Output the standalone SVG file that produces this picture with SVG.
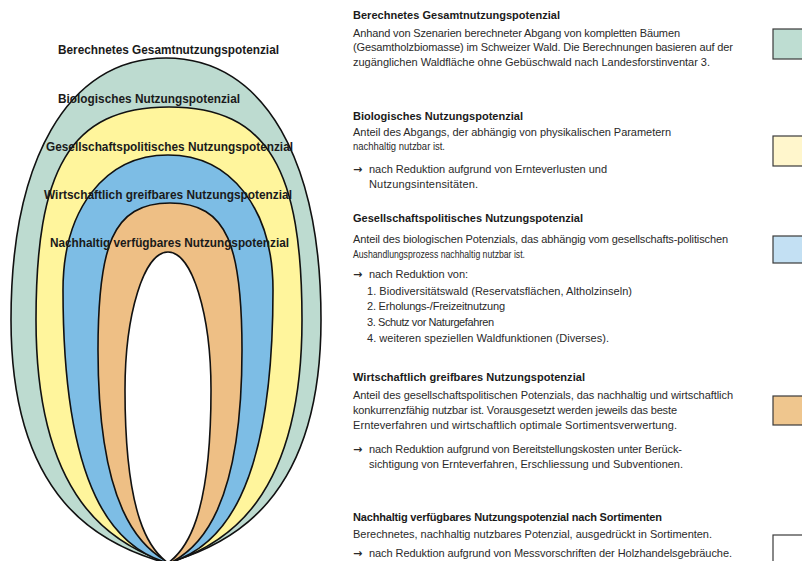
<svg xmlns="http://www.w3.org/2000/svg" width="802" height="561" viewBox="0 0 802 561">
<style>
.ell{stroke:#111;stroke-width:1.6;stroke-linejoin:round}
.lbl{font-family:"Liberation Sans",Arial,sans-serif;font-weight:bold;font-size:13px;fill:#1a1a1a}
.h{font-family:"Liberation Sans",Arial,sans-serif;font-weight:bold;font-size:11px;fill:#1a1a1a}
.b{font-family:"Liberation Sans",Arial,sans-serif;font-size:11px;fill:#2a2a2a}
.ar{font-family:"DejaVu Sans",sans-serif;font-size:11px;font-weight:bold;fill:#2a2a2a}
.sq{stroke:#3a3a3a;stroke-width:1.2}
</style>
<rect width="802" height="561" fill="#ffffff"/>
<g id="layer-gesamt"><path class="ell" fill="#BDDBD0" d="M166,58 C66,58 11,163 11,320 C11,500 101,545 166,563 C231,545 321,500 321,320 C321,163 266,58 166,58 Z"/></g>
<g id="layer-biologisch"><path class="ell" fill="#FFF59C" d="M169,107 C69,107 36,171 36,320 C36,500 113,545 169,563 C225,545 302,500 302,320 C302,171 269,107 169,107 Z"/></g>
<g id="layer-gesellschaft"><path class="ell" fill="#7DBDE5" d="M168,155 C105,155 63,209 63,290 C63,492 115,548 168,563 C221,548 273,492 273,290 C273,209 231,155 168,155 Z"/></g>
<g id="layer-wirtschaft"><path class="ell" fill="#EEBF85" d="M170,203 C112,203 98,247 98,350 C98,508 140,548 170,563 C200,548 242,508 242,350 C242,247 228,203 170,203 Z"/></g>
<g id="layer-nachhaltig"><path class="ell" fill="#ffffff" d="M168,252 C144,252 125,314 125,390 C125,518 150,550 168,563 C186,550 211,518 211,390 C211,314 192,252 168,252 Z"/></g>
<g id="labels">
<text class="lbl" x="58" y="54" textLength="221" lengthAdjust="spacingAndGlyphs">Berechnetes Gesamtnutzungspotenzial</text>
<text class="lbl" x="58" y="103" textLength="182" lengthAdjust="spacingAndGlyphs">Biologisches Nutzungspotenzial</text>
<text class="lbl" x="46" y="151" textLength="247" lengthAdjust="spacingAndGlyphs">Gesellschaftspolitisches Nutzungspotenzial</text>
<text class="lbl" x="44" y="199" textLength="248" lengthAdjust="spacingAndGlyphs">Wirtschaftlich greifbares Nutzungspotenzial</text>
<text class="lbl" x="50" y="247" textLength="239" lengthAdjust="spacingAndGlyphs">Nachhaltig verfügbares Nutzungspotenzial</text>
</g>
<g id="legend-gesamt">
<text class="h" x="353" y="19" textLength="207" lengthAdjust="spacing">Berechnetes Gesamtnutzungspotenzial</text>
<text class="b" x="353" y="37" textLength="327" lengthAdjust="spacing">Anhand von Szenarien berechneter Abgang von kompletten Bäumen</text>
<text class="b" x="353" y="51" textLength="380" lengthAdjust="spacing">(Gesamtholzbiomasse) im Schweizer Wald. Die Berechnungen basieren auf der</text>
<text class="b" x="353" y="66" textLength="357" lengthAdjust="spacing">zugänglichen Waldfläche ohne Gebüschwald nach Landesforstinventar 3.</text>
<rect class="sq" x="773" y="29" width="40" height="30" fill="#BEDDD2"/>
</g>
<g id="legend-biologisch">
<text class="h" x="353" y="120" textLength="170" lengthAdjust="spacing">Biologisches Nutzungspotenzial</text>
<text class="b" x="353" y="136" textLength="318" lengthAdjust="spacing">Anteil des Abgangs, der abhängig von physikalischen Parametern</text>
<text class="b" x="353" y="150" textLength="92" lengthAdjust="spacingAndGlyphs">nachhaltig nutzbar ist.</text>
<text class="ar" x="353" y="173">→</text>
<text class="b" x="369" y="173" textLength="238" lengthAdjust="spacing">nach Reduktion aufgrund von Ernteverlusten und</text>
<text class="b" x="369" y="188" textLength="109" lengthAdjust="spacing">Nutzungsintensitäten.</text>
<rect class="sq" x="773" y="136" width="40" height="30" fill="#FFF6CC"/>
</g>
<g id="legend-gesellschaft">
<text class="h" x="353" y="222" textLength="230" lengthAdjust="spacing">Gesellschaftspolitisches Nutzungspotenzial</text>
<text class="b" x="353" y="243" textLength="375" lengthAdjust="spacing">Anteil des biologischen Potenzials, das abhängig vom gesellschafts-politischen</text>
<text class="b" x="353" y="258" textLength="172" lengthAdjust="spacingAndGlyphs">Aushandlungsprozess nachhaltig nutzbar ist.</text>
<text class="ar" x="353" y="278">→</text>
<text class="b" x="369" y="278" textLength="99" lengthAdjust="spacing">nach Reduktion von:</text>
<text class="b" x="367" y="295" textLength="265" lengthAdjust="spacing">1. Biodiversitätswald (Reservatsflächen, Altholzinseln)</text>
<text class="b" x="367" y="310" textLength="138" lengthAdjust="spacing">2. Erholungs-/Freizeitnutzung</text>
<text class="b" x="367" y="326" textLength="127" lengthAdjust="spacing">3. Schutz vor Naturgefahren</text>
<text class="b" x="367" y="342" textLength="242" lengthAdjust="spacing">4. weiteren speziellen Waldfunktionen (Diverses).</text>
<rect class="sq" x="773" y="236" width="40" height="27" fill="#C3E0F3"/>
</g>
<g id="legend-wirtschaft">
<text class="h" x="353" y="381" textLength="232" lengthAdjust="spacing">Wirtschaftlich greifbares Nutzungspotenzial</text>
<text class="b" x="353" y="399" textLength="380" lengthAdjust="spacing">Anteil des gesellschaftspolitischen Potenzials, das nachhaltig und wirtschaftlich</text>
<text class="b" x="353" y="414" textLength="324" lengthAdjust="spacing">konkurrenzfähig nutzbar ist. Vorausgesetzt werden jeweils das beste</text>
<text class="b" x="353" y="429" textLength="324" lengthAdjust="spacing">Ernteverfahren und wirtschaftlich optimale Sortimentsverwertung.</text>
<text class="ar" x="353" y="453">→</text>
<text class="b" x="369" y="453" textLength="313" lengthAdjust="spacing">nach Reduktion aufgrund von Bereitstellungskosten unter Berück-</text>
<text class="b" x="369" y="468" textLength="314" lengthAdjust="spacing">sichtigung von Ernteverfahren, Erschliessung und Subventionen.</text>
<rect class="sq" x="773" y="396" width="40" height="29" fill="#EFC68E"/>
</g>
<g id="legend-nachhaltig">
<text class="h" x="353" y="521" textLength="309" lengthAdjust="spacing">Nachhaltig verfügbares Nutzungspotenzial nach Sortimenten</text>
<text class="b" x="353" y="538" textLength="359" lengthAdjust="spacing">Berechnetes, nachhaltig nutzbares Potenzial, ausgedrückt in Sortimenten.</text>
<text class="ar" x="353" y="557">→</text>
<text class="b" x="369" y="557" textLength="363" lengthAdjust="spacing">nach Reduktion aufgrund von Messvorschriften der Holzhandelsgebräuche.</text>
<rect class="sq" x="773" y="535" width="40" height="40" fill="#ffffff"/>
</g>
</svg>
